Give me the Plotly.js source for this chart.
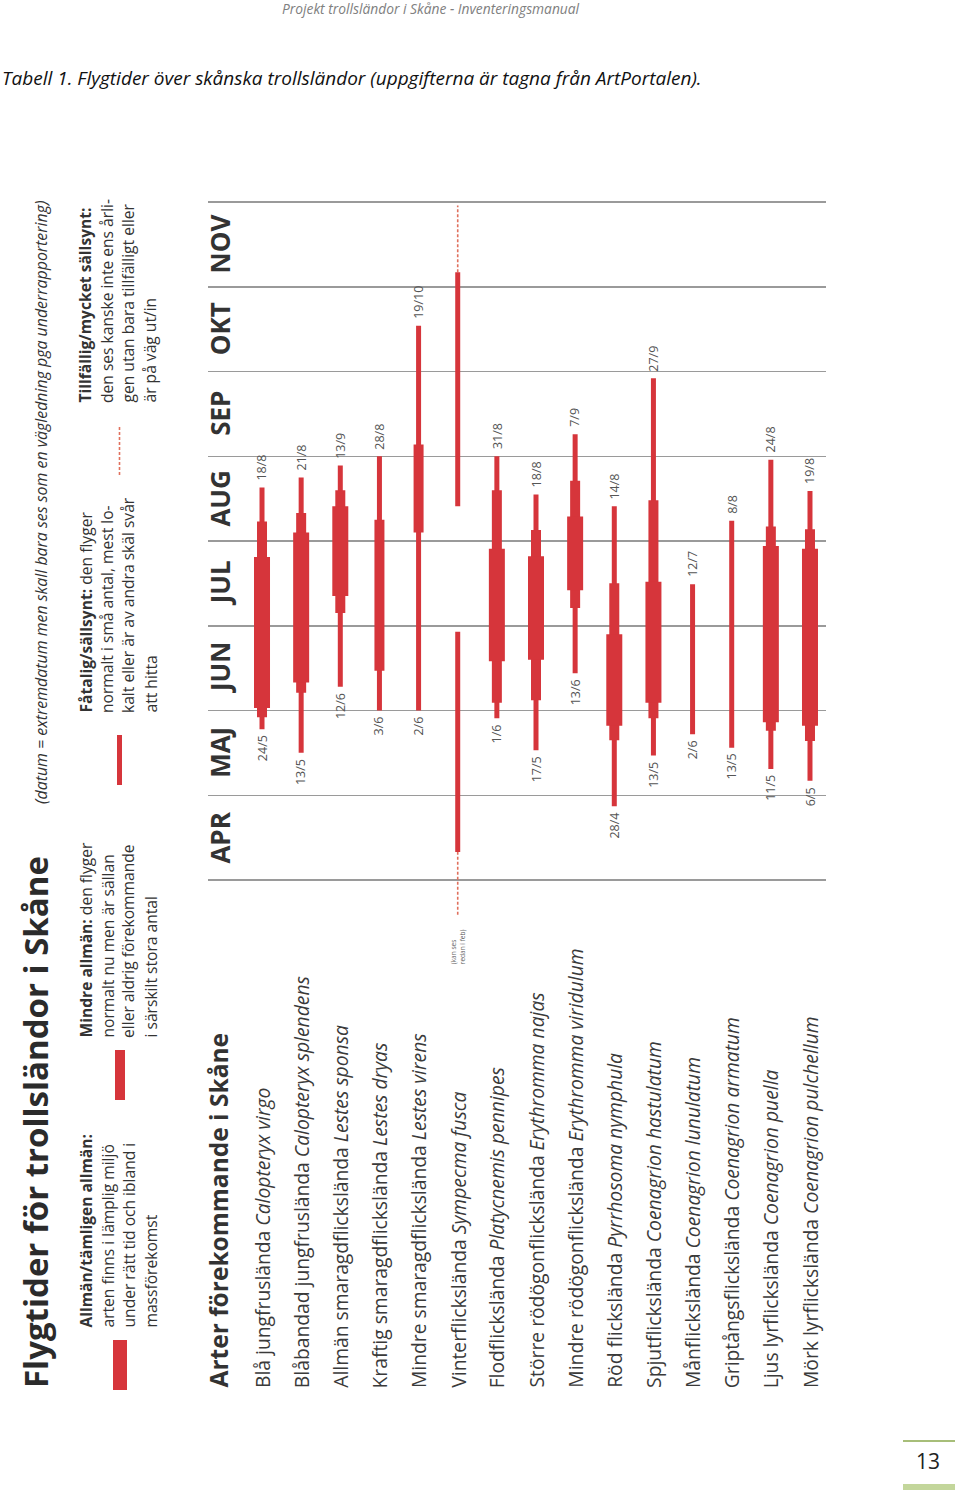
<!DOCTYPE html>
<html><head><meta charset="utf-8">
<script src="https://cdn.plot.ly/plotly-3.0.1.min.js"></script>
<style>html,body{margin:0;padding:0;background:#fff}#chart{width:960px;height:1493px}</style>
</head><body><div id="chart"></div>
<script>
// Time unit: month number with fraction (4 = 1 April, 5 = 1 May ... 12 = 1 December)
const species = ["Blå jungfruslända","Blåbandad jungfruslända","Allmän smaragdflickslända","Kraftig smaragdflickslända","Mindre smaragdflickslända","Vinterflickslända","Flodflickslända","Större rödögonflickslända","Mindre rödögonflickslända","Röd flickslända","Spjutflickslända","Månflickslända","Griptångsflickslända","Ljus lyrflickslända","Mörk lyrflickslända"];
const scientific = ["Calopteryx virgo","Calopteryx splendens","Lestes sponsa","Lestes dryas","Lestes virens","Sympecma fusca","Platycnemis pennipes","Erythromma najas","Erythromma viridulum","Pyrrhosoma nymphula","Coenagrion hastulatum","Coenagrion lunulatum","Coenagrion armatum","Coenagrion puella","Coenagrion pulchellum"];
// Fåtalig/sällsynt (thin)
const thinFrom  = [5.78, 5.50, 6.28, 6.00, 6.00, 4.33, 5.91, 5.53, 6.44, 4.87, 5.47, 5.72, 5.56, 5.31, 5.17];
const thinTo    = [8.63, 8.75, 8.89, 9.00, 10.54, 6.93, 9.00, 8.55, 9.26, 8.41, 9.92, 7.49, 8.24, 8.96, 8.59];
// Mindre allmän (medium)
const medFrom   = [5.92, 6.21, 7.15, 6.47, 8.10, null, 6.09, 6.12, 7.21, 5.65, 5.91, null, null, 5.76, 5.64];
const medTo     = [8.23, 8.33, 8.60, 8.25, 9.14, null, 8.60, 8.13, 8.71, 7.50, 8.48, null, null, 8.17, 8.14];
// Allmän/tämligen allmän (thick)
const thickFrom = [6.03, 6.33, 7.35, null, null, null, 6.58, 6.60, 7.42, 5.82, 6.09, null, null, 5.86, 5.82];
const thickTo   = [7.81, 8.10, 8.41, null, null, null, 7.91, 7.82, 8.29, 6.90, 7.52, null, null, 7.94, 7.91];
// Vinterflickslända: autumn period (thin) and occasional parts (dashed)
const extraThinSpecies = [5];
const extraThinFrom = [8.41];
const extraThinTo = [11.17];
const dashedSpecies = [5, 5];
const dashedFrom = [3.59, 11.17];
const dashedTo = [4.33, 11.96];
// extreme-date labels
const topLabels    = ["18/8","21/8","13/9","28/8","19/10","","31/8","18/8","7/9","14/8","27/9","12/7","8/8","24/8","19/8"];
const bottomLabels = ["24/5","13/5","12/6","3/6","2/6","","1/6","17/5","13/6","28/4","13/5","2/6","13/5","11/5","6/5"];
const months = ["APR","MAJ","JUN","JUL","AUG","SEP","OKT","NOV"];
const monthStart = [4,5,6,7,8,9,10,11];
const gridVals = [4,5,6,7,8,9,10,11,12];

const RED = "#d6353b";
const W = 960, H = 1493;
const px = x => x / W;
const py = y => 1 - y / H;
const SANS = "Open Sans, sans-serif";

function segs(sp, from, to) {
  const xs = [], ys = [];
  for (let i = 0; i < from.length; i++) {
    if (from[i] == null) continue;
    const s = sp ? sp[i] : i;
    xs.push(s, s, null); ys.push(from[i], to[i], null);
  }
  return {xs, ys};
}
const thin = segs(null, thinFrom, thinTo);
const thinX = segs(extraThinSpecies, extraThinFrom, extraThinTo);
thin.xs.push(...thinX.xs); thin.ys.push(...thinX.ys);
const med = segs(null, medFrom, medTo);
const thick = segs(null, thickFrom, thickTo);
const dash = segs(dashedSpecies, dashedFrom, dashedTo);

const traces = [
  {x: dash.xs, y: dash.ys, mode: "lines", line: {color: "#e0705d", width: 1.6, dash: "3px,2px"}, hoverinfo: "skip"},
  {x: thin.xs, y: thin.ys, mode: "lines", line: {color: RED, width: 5}, hoverinfo: "skip"},
  {x: med.xs, y: med.ys, mode: "lines", line: {color: RED, width: 10}, hoverinfo: "skip"},
  {x: thick.xs, y: thick.ys, mode: "lines", line: {color: RED, width: 16}, hoverinfo: "skip"}
];

const ann = [];
function rot(x, y, text, size, color) {
  ann.push({xref: "paper", yref: "paper", x: px(x), y: py(y), text: text, textangle: -90,
    showarrow: false, xanchor: "center", yanchor: "bottom", align: "left",
    font: {family: SANS, size: size, color: color || "#333"}});
}
// header texts
ann.push({xref: "paper", yref: "paper", x: px(431), y: py(8), text: "<i>Projekt trollsländor i Skåne - Inventeringsmanual</i>",
  showarrow: false, xanchor: "center", yanchor: "middle", font: {family: SANS, size: 13.8, color: "#808080"}});
ann.push({xref: "paper", yref: "paper", x: px(0), y: py(78), text: "<i>Tabell 1. Flygtider över skånska trollsländor (uppgifterna är tagna från ArtPortalen).</i>",
  showarrow: false, xanchor: "left", yanchor: "middle", font: {family: SANS, size: 19, color: "#111"}});
ann.push({xref: "paper", yref: "paper", x: px(928), y: py(1461), text: "13",
  showarrow: false, xanchor: "center", yanchor: "middle", font: {family: SANS, size: 21, color: "#222"}});

// title block
rot(35, 1390, "<b>Flygtider för trollsländor i Skåne</b>", 33, "#2b2b2b");
rot(41, 806, "<i>(datum = extremdatum men skall bara ses som en vägledning pga underrapportering)</i>", 15.9);

// legend texts
const legendLines = [
  {y: 1330, lines: ["<b>Allmän/tämligen allmän:</b>", "arten finns i lämplig miljö", "under rätt tid och ibland i", "massförekomst"]},
  {y: 1040, lines: ["<b>Mindre allmän:</b> den flyger", "normalt nu men är sällan", "eller aldrig förekommande", "i särskilt stora antal"]},
  {y: 715, lines: ["<b>Fåtalig/sällsynt:</b> den flyger", "normalt i små antal, mest lo-", "kalt eller är av andra skäl svår", "att hitta"]},
  {y: 405, lines: ["<b>Tillfällig/mycket sällsynt:</b>", "den ses kanske inte ens årli-", "gen utan bara tillfälligt eller", "är på väg ut/in"]}
];
const lineX = [85, 107, 128, 150];
legendLines.forEach(b => b.lines.forEach((t, k) => rot(lineX[k], b.y, t, 15.6)));

// section heading
rot(218, 1390, "<b>Arter förekommande i Skåne</b>", 24.5);

// species labels
species.forEach((s, i) => ann.push({xref: "x", yref: "paper", x: i, y: py(1390), text: s + " <i>" + scientific[i] + "</i>",
  textangle: -90, showarrow: false, xanchor: "center", yanchor: "bottom", font: {family: SANS, size: 19.3, color: "#3a3a3a"}}));

// month labels
months.forEach((m, k) => ann.push({xref: "paper", yref: "y", x: px(220), y: monthStart[k] + 0.5, text: "<b>" + m + "</b>",
  textangle: -90, showarrow: false, xanchor: "center", yanchor: "middle", font: {family: SANS, size: 26, color: "#333"}}));

// date labels
topLabels.forEach((t, i) => { if (t) ann.push({xref: "x", yref: "y", x: i, y: thinTo[i], text: t, textangle: -90, showarrow: false,
  xanchor: "center", yanchor: "bottom", yshift: 5, font: {family: SANS, size: 12.5, color: "#555"}}); });
bottomLabels.forEach((t, i) => { if (t) ann.push({xref: "x", yref: "y", x: i, y: thinFrom[i], text: t, textangle: -90, showarrow: false,
  xanchor: "center", yanchor: "top", yshift: -4, font: {family: SANS, size: 12.5, color: "#555"}}); });

// note for Vinterflickslända
ann.push({xref: "x", yref: "paper", x: 5, y: py(966), text: "(kan ses<br>redan i feb)", textangle: -90, showarrow: false,
  xanchor: "center", yanchor: "bottom", align: "left", font: {family: SANS, size: 6.5, color: "#666"}});

const shapes = [
  {type: "rect", xref: "paper", yref: "paper", x0: px(113), x1: px(127), y0: py(1390), y1: py(1340), fillcolor: RED, line: {width: 0}},
  {type: "rect", xref: "paper", yref: "paper", x0: px(115), x1: px(125), y0: py(1100), y1: py(1050), fillcolor: RED, line: {width: 0}},
  {type: "rect", xref: "paper", yref: "paper", x0: px(117), x1: px(122), y0: py(785), y1: py(735), fillcolor: RED, line: {width: 0}},
  {type: "line", xref: "paper", yref: "paper", x0: px(119.5), x1: px(119.5), y0: py(475), y1: py(425), line: {color: "#e0705d", width: 1.6, dash: "3px,2px"}},
  {type: "line", xref: "paper", yref: "paper", x0: px(903), x1: px(955), y0: py(1441), y1: py(1441), line: {color: "#8aa84c", width: 1.5}},
  {type: "rect", xref: "paper", yref: "paper", x0: px(903), x1: px(955), y0: py(1490), y1: py(1484), fillcolor: "#c3d69b", line: {width: 0}}
];

const layout = {
  width: W, height: H, margin: {l: 0, r: 0, t: 0, b: 0}, paper_bgcolor: "#fff", plot_bgcolor: "rgba(0,0,0,0)",
  showlegend: false,
  xaxis: {domain: [px(208), px(826)], range: [-1.38, 14.409], showgrid: false, zeroline: false, showticklabels: false, ticks: "", fixedrange: true},
  yaxis: {domain: [py(930), py(190)], range: [3.41, 12.1416], tickvals: gridVals, showgrid: true, gridcolor: "#9a9a9a", gridwidth: 1.5,
    zeroline: false, showticklabels: false, ticks: "", fixedrange: true},
  annotations: ann, shapes: shapes
};
Plotly.newPlot("chart", traces, layout, {staticPlot: true, displayModeBar: false});
</script></body></html>
